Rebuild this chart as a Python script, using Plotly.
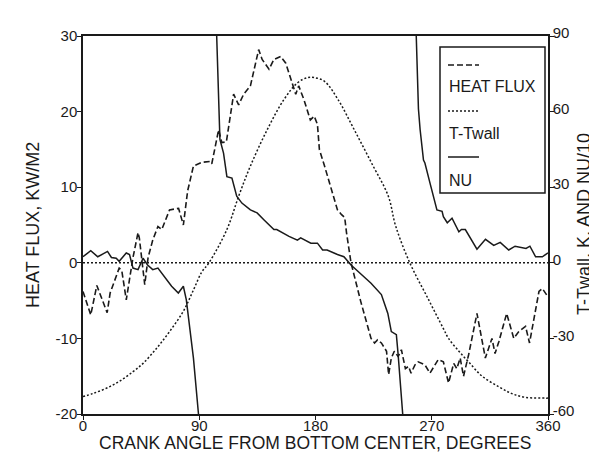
import plotly.graph_objects as go

# ---------------- data ----------------
# Heat flux, kW/m2 (left axis)
hf_angle = [0, 6, 10.7, 14, 18.7, 21, 28, 30, 33.5, 38.7, 42.6, 43.6, 47.8, 50.4, 54, 58, 61,
            67, 74, 77.7, 81, 85.5, 92, 98.4, 99.7, 105, 107.5, 111, 116.6, 120.5, 124.4, 129.6,
            132, 136, 138.7, 144, 147.8, 153, 157, 162, 164.7, 167, 171, 176, 179, 181.5, 183,
            187, 197, 200, 202.6, 204, 207.5, 215, 223, 225.7, 228, 231, 235, 236.6, 238.7, 241,
            244, 246.5, 249.6, 252, 254, 257, 259.5, 264.7, 268.6, 272.5, 275, 279, 283, 287,
            289.4, 292, 294.6, 298.5, 305, 311.5, 316.6, 319, 322, 328, 333.5, 337.4, 342.6,
            345.7, 353, 355.6, 360]
hf_value = [-3.8, -6.9, -3.0, -4.5, -6.6, -4.0, -0.7, -1.0, -4.9, 0.7, 4.0, 3.3, -2.9, 0.7, 3.0, 4.8, 4.4,
            7.0, 7.2, 5.0, 9.5, 12.8, 13.3, 13.4, 13.1, 17.6, 15.9, 16.0, 22.3, 20.9, 22.3, 23.4,
            25.3, 28.2, 26.9, 25.6, 26.9, 27.3, 26.4, 23.8, 22.3, 23.4, 21.6, 18.9, 19.4, 18.3, 15.0,
            12.8, 7.0, 6.4, 6.0, 4.0, 0.0, -5.1, -10.0, -10.6, -10.2, -10.6, -11.7, -14.8, -12.6, -11.7,
            -12.4, -11.5, -14.0, -13.7, -14.6, -13.5, -13.1, -13.5, -14.6, -13.5, -12.8, -13.1, -15.9, -13.3,
            -14.0, -12.6, -15.0, -12.2, -6.7, -12.6, -10.0, -12.0, -10.4, -6.7, -10.0, -9.1, -8.4,
            -10.6, -3.8, -3.4, -4.5]

# T - Twall, K (right axis)
tw_angle = [0, 7.5, 18, 28, 38.7, 46.5, 57, 67, 77.7, 85.5, 92, 97.5, 111.4, 120.5, 129.6, 142.6,
            155.6, 166, 173.8, 179, 187, 197.4, 210, 223.4, 236.4, 242, 253, 267, 279, 283, 291,
            298.5, 309, 322, 332, 342.6, 358, 360]
tw_value = [-53.1, -51.9, -49.8, -47.1, -43.2, -39.9, -33.9, -27.3, -19.2, -10.8, -3.6, 0.0, 13.2, 26.4,
            38.4, 52.8, 64.8, 71.4, 73.5, 73.5, 72.0, 64.8, 52.8, 39.6, 26.4, 14.7, 0.0, -14.1, -26.1,
            -30.0, -35.1, -39.3, -45.0, -49.2, -51.9, -53.4, -53.7, -53.7]

# NU/10 (right axis); None separates the branches that leave the chart
nu_angle = [0, 6, 11.4, 15, 19, 22, 25.7, 28, 33.5, 36, 38.7, 42.6, 46.5, 50, 54, 58, 62, 68.6,
            73.8, 77.7, 80, 85.5, 89.4, 91, None,
            102.5, 103.5, 106, 108.8, 111.4, 115.3, 119, 123, 129.6, 134.8, 140, 147.8, 150,
            159.5, 166, 168.5, 176.4, 181.5, 185.5, 189, 197, 202, 207.5, 215, 223, 231, 236,
            238.7, 242.6, 244, 246, 248, 249, None,
            257, 258, 259.7, 261, 263.6, 264.7, 269, 270, 274, 278, 279, 282, 285.7, 291, 293,
            296, 298.6, 301, 305, 311.6, 318, 323, 329.6, 334.5, 343, 346, 350.4, 355.6, 360]
nu_value = [2.4, 4.8, 2.4, 3.3, 4.5, 2.1, 1.8, 0.6, 3.9, 3.3, -2.1, -2.7, 1.8, -0.9, -2.7, -2.1, -4.8, -9.3,
            -12.0, -9.3, -14.7, -37.8, -60.0, -75.0, None,
            100.0, 90.0, 49.0, 43.5, 34.2, 33.6, 26.4, 23.7, 21.0, 19.8, 17.1, 13.2, 13.2,
            10.5, 9.0, 9.9, 7.8, 7.8, 5.1, 5.1, 3.3, 2.4, -0.9, -4.2, -8.1, -12.6, -20.1,
            -27.3, -28.5, -36.6, -48.6, -60.0, -70.0, None,
            100.0, 90.0, 61.0, 52.8, 40.8, 39.6, 30.9, 29.1, 21.0, 20.4, 18.3, 15.9, 17.7, 12.3, 13.2,
            13.2, 11.1, 9.0, 5.4, 9.3, 6.9, 8.1, 5.1, 6.6, 5.7, 6.6, 2.4, 2.4, 3.9]

x_ticks = [0, 90, 180, 270, 360]
y_left_ticks = [-20, -10, 0, 10, 20, 30]
y_right_ticks = [-60, -30, 0, 30, 60, 90]

series_names = ["HEAT FLUX", "T-Twall", "NU"]

# ---------------- figure ----------------
INK = "#1a1a1a"
FONT = "Liberation Sans, Arial, Helvetica, sans-serif"
W, H = 597, 453
ML, MR, MT, MB = 75, 57, 28, 47
PW, PH = W - ML - MR, H - MT - MB


def px2x(px):
    return (px - ML) / PW


def px2y(py):
    return (H - MB - py) / PH


def labels(vals):
    return [str(v) for v in vals]


fig = go.Figure()
fig.add_trace(go.Scatter(x=hf_angle, y=hf_value, mode="lines", name=series_names[0],
                         line=dict(color=INK, width=1.6, dash="6px,3px"), yaxis="y"))
fig.add_trace(go.Scatter(x=tw_angle, y=tw_value, mode="lines", name=series_names[1],
                         line=dict(color=INK, width=1.5, dash="2px,2px", shape="spline"),
                         yaxis="y2"))
fig.add_trace(go.Scatter(x=nu_angle, y=nu_value, mode="lines", name=series_names[2],
                         line=dict(color=INK, width=1.5), yaxis="y2", connectgaps=False))

axis_common = dict(showgrid=False, zeroline=False, showline=True, linecolor=INK, linewidth=1.5,
                   ticks="outside", ticklen=4, tickwidth=1.3, tickcolor=INK,
                   tickfont=dict(family=FONT, size=15, color=INK))

fig.update_layout(
    width=W, height=H,
    margin=dict(l=ML, r=MR, t=MT, b=MB, pad=0),
    paper_bgcolor="white", plot_bgcolor="white",
    showlegend=False,
    font=dict(family=FONT, color=INK),
    xaxis=dict(range=[0, 360], tickvals=x_ticks, ticktext=labels(x_ticks), mirror=True,
               ticklabelstandoff=-7, **axis_common),
    yaxis=dict(range=[-20, 30], tickvals=y_left_ticks, ticktext=labels(y_left_ticks),
               ticklabelstandoff=-3, **axis_common),
    yaxis2=dict(range=[-60, 90], tickvals=y_right_ticks, ticktext=labels(y_right_ticks),
                overlaying="y", side="right", ticklabelstandoff=-4, ticklabelshift=-3,
                **axis_common),
)

shapes = [
    # dotted zero line
    dict(type="line", xref="x", yref="y", x0=0, x1=360, y0=0, y1=0,
         line=dict(color=INK, width=1.4, dash="2px,2px"), layer="above"),
    # legend box
    dict(type="rect", xref="paper", yref="paper", x0=px2x(432), x1=px2x(537),
         y0=px2y(185), y1=px2y(39), line=dict(color=INK, width=1.5),
         fillcolor="white", layer="above"),
    dict(type="line", xref="paper", yref="paper", x0=px2x(440), x1=px2x(471),
         y0=px2y(57), y1=px2y(57), line=dict(color=INK, width=1.6, dash="6px,3px"), layer="above"),
    dict(type="line", xref="paper", yref="paper", x0=px2x(440), x1=px2x(472),
         y0=px2y(103), y1=px2y(103), line=dict(color=INK, width=1.4, dash="2px,2px"), layer="above"),
    dict(type="line", xref="paper", yref="paper", x0=px2x(440), x1=px2x(471),
         y0=px2y(149), y1=px2y(149), line=dict(color=INK, width=1.5), layer="above"),
]
fig.update_layout(shapes=shapes)

annotations = []
for name, ypx in zip(series_names, [79, 125, 172]):
    annotations.append(dict(text=name, xref="paper", yref="paper", x=px2x(439), y=px2y(ypx),
                            xanchor="left", yanchor="middle", showarrow=False,
                            font=dict(family=FONT, size=16, color=INK)))
annotations += [
    dict(text="CRANK ANGLE FROM BOTTOM CENTER, DEGREES", xref="paper", yref="paper",
         x=px2x(307), y=px2y(435), xanchor="center", yanchor="middle", showarrow=False,
         font=dict(family=FONT, size=17.5, color=INK)),
    dict(text="HEAT FLUX, KW/M2", xref="paper", yref="paper", textangle=-90,
         x=px2x(25), y=px2y(217), xanchor="center", yanchor="middle", showarrow=False,
         font=dict(family=FONT, size=18, color=INK)),
    dict(text="T-Twall, K, AND NU/10", xref="paper", yref="paper", textangle=-90,
         x=px2x(576), y=px2y(216), xanchor="center", yanchor="middle", showarrow=False,
         font=dict(family=FONT, size=18, color=INK)),
]
fig.update_layout(annotations=annotations)

fig.write_html("out.html")
